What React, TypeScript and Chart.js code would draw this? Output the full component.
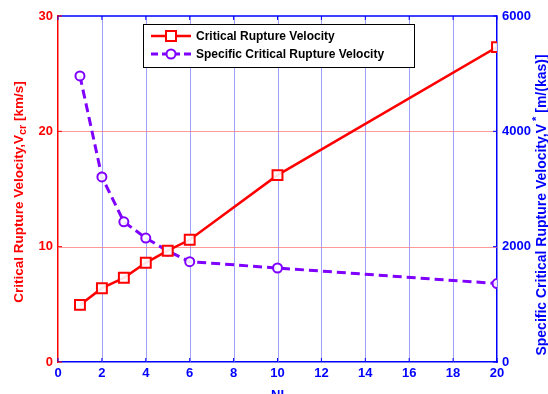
import React, { useEffect, useRef } from "react";
import { Chart, registerables } from "chart.js";

Chart.register(...registerables);

const nlValues = [1, 2, 3, 4, 5, 6, 10, 20];
const criticalVelocity = [4.95, 6.4, 7.3, 8.6, 9.65, 10.6, 16.2, 27.3];
const specificVelocity = [4960, 3210, 2430, 2150, 1925, 1740, 1630, 1360];
const xTicks = [0, 2, 4, 6, 8, 10, 12, 14, 16, 18, 20];
const leftTicks = [0, 10, 20, 30];
const rightTicks = [0, 2000, 4000, 6000];

const RED = "#ff0000";
const BLUE = "#0000ff";
const PURPLE = "#7f00ff";
const FONT = "Liberation Sans, Arial, sans-serif";

const decorPlugin = {
  id: "decor",
  beforeDatasetsDraw(chart: any) {
    const ctx = chart.ctx;
    const a = chart.chartArea;
    const xs = chart.scales.x;
    const yl = chart.scales.y;
    ctx.save();
    ctx.lineWidth = 1;
    ctx.strokeStyle = "rgba(120,120,255,0.7)";
    xTicks.forEach((t) => {
      if (t === 0 || t === 20) return;
      const px = Math.round(xs.getPixelForValue(t)) + 0.5;
      ctx.beginPath();
      ctx.moveTo(px, a.top);
      ctx.lineTo(px, a.bottom);
      ctx.stroke();
    });
    ctx.strokeStyle = "rgba(255,120,120,0.75)";
    leftTicks.forEach((t) => {
      if (t === 0 || t === 30) return;
      const py = Math.round(yl.getPixelForValue(t)) + 0.5;
      ctx.beginPath();
      ctx.moveTo(a.left, py);
      ctx.lineTo(a.right, py);
      ctx.stroke();
    });
    ctx.restore();
  },
  afterDraw(chart: any) {
    const ctx = chart.ctx;
    const a = chart.chartArea;
    const xs = chart.scales.x;
    const yl = chart.scales.y;
    const yr = chart.scales.y1;
    ctx.save();
    ctx.strokeStyle = BLUE;
    ctx.lineWidth = 1.5;
    ctx.beginPath();
    ctx.moveTo(a.left, a.top);
    ctx.lineTo(a.right, a.top);
    ctx.stroke();
    ctx.lineWidth = 1;
    xTicks.forEach((t) => {
      const px = xs.getPixelForValue(t);
      ctx.strokeStyle = BLUE;
      ctx.beginPath();
      ctx.moveTo(px, a.bottom);
      ctx.lineTo(px, a.bottom - 4);
      ctx.moveTo(px, a.top);
      ctx.lineTo(px, a.top + 4);
      ctx.stroke();
    });
    leftTicks.forEach((t) => {
      const py = yl.getPixelForValue(t);
      ctx.strokeStyle = RED;
      ctx.beginPath();
      ctx.moveTo(a.left, py);
      ctx.lineTo(a.left + 4, py);
      ctx.stroke();
    });
    rightTicks.forEach((t) => {
      const py = yr.getPixelForValue(t);
      ctx.strokeStyle = BLUE;
      ctx.beginPath();
      ctx.moveTo(a.right, py);
      ctx.lineTo(a.right - 4, py);
      ctx.stroke();
    });

    const drawRotated = (
      cx: number,
      cy: number,
      parts: { t: string; dy: number; size: number }[],
      color: string
    ) => {
      ctx.save();
      ctx.translate(cx, cy);
      ctx.rotate(-Math.PI / 2);
      ctx.fillStyle = color;
      ctx.textBaseline = "middle";
      let total = 0;
      parts.forEach((p) => {
        ctx.font = `bold ${p.size}px ${FONT}`;
        total += ctx.measureText(p.t).width;
      });
      let x = -total / 2;
      parts.forEach((p) => {
        ctx.font = `bold ${p.size}px ${FONT}`;
        ctx.textAlign = "left";
        ctx.fillText(p.t, x, p.dy);
        x += ctx.measureText(p.t).width;
      });
      ctx.restore();
    };
    drawRotated(
      19,
      192,
      [
        { t: "Critical Rupture Velocity,V", dy: 0, size: 13.5 },
        { t: "cr", dy: 4, size: 11 },
        { t: " [km/s]", dy: 0, size: 13.5 },
      ],
      RED
    );
    drawRotated(
      542,
      205,
      [
        { t: "Specific Critical Rupture Velocity,V", dy: 0, size: 14 },
        { t: " *", dy: -5, size: 11 },
        { t: " [m/(kas)]", dy: 0, size: 14 },
      ],
      BLUE
    );
    ctx.fillStyle = BLUE;
    ctx.font = `bold 13px ${FONT}`;
    ctx.textAlign = "center";
    ctx.textBaseline = "middle";
    ctx.fillText("NI", (a.left + a.right) / 2, 395);

    const lx = 143, ly = 24, lw = 271, lh = 43;
    ctx.fillStyle = "#ffffff";
    ctx.fillRect(lx, ly, lw, lh);
    ctx.strokeStyle = "#000000";
    ctx.lineWidth = 1;
    ctx.strokeRect(lx + 0.5, ly + 0.5, lw, lh);
    const y1 = 36;
    ctx.strokeStyle = RED;
    ctx.lineWidth = 2.5;
    ctx.setLineDash([]);
    ctx.beginPath();
    ctx.moveTo(151, y1);
    ctx.lineTo(191, y1);
    ctx.stroke();
    ctx.fillStyle = "#ffffff";
    ctx.fillRect(166, y1 - 5, 10, 10);
    ctx.lineWidth = 2;
    ctx.strokeRect(166, y1 - 5, 10, 10);
    ctx.fillStyle = "#000000";
    ctx.font = `bold 12px ${FONT}`;
    ctx.textAlign = "left";
    ctx.fillText("Critical Rupture Velocity", 196, y1 + 1);
    const y2 = 54;
    ctx.strokeStyle = PURPLE;
    ctx.lineWidth = 3;
    ctx.setLineDash([7, 4]);
    ctx.beginPath();
    ctx.moveTo(151, y2);
    ctx.lineTo(191, y2);
    ctx.stroke();
    ctx.setLineDash([]);
    ctx.lineWidth = 2;
    ctx.fillStyle = "#ffffff";
    ctx.beginPath();
    ctx.arc(171, y2, 4.5, 0, Math.PI * 2);
    ctx.fill();
    ctx.stroke();
    ctx.fillStyle = "#000000";
    ctx.fillText("Specific Critical Rupture Velocity", 196, y2 + 1);
    ctx.restore();
  },
};

export default function App() {
  const ref = useRef<HTMLCanvasElement>(null);
  useEffect(() => {
    document.body.style.margin = "0";
    const chart = new Chart(ref.current!, {
      type: "line",
      data: {
        datasets: [
          {
            label: "Critical Rupture Velocity",
            data: nlValues.map((x, i) => ({ x, y: criticalVelocity[i] })),
            borderColor: RED,
            backgroundColor: "#ffffff",
            borderWidth: 2.5,
            pointStyle: "rect",
            pointRadius: 7,
            pointBorderWidth: 2,
            pointBorderColor: RED,
            pointBackgroundColor: "rgba(255,255,255,0.9)",
            yAxisID: "y",
            tension: 0,
          },
          {
            label: "Specific Critical Rupture Velocity",
            data: nlValues.map((x, i) => ({ x, y: specificVelocity[i] })),
            borderColor: PURPLE,
            backgroundColor: "#ffffff",
            borderWidth: 3,
            borderDash: [9, 5],
            pointStyle: "circle",
            pointRadius: 4.5,
            pointBorderWidth: 2,
            pointBorderColor: PURPLE,
            pointBackgroundColor: "rgba(255,255,255,0.9)",
            yAxisID: "y1",
            tension: 0,
          },
        ],
      },
      options: {
        animation: false,
        responsive: false,
        maintainAspectRatio: false,
        layout: { padding: { top: 16, left: 0, right: 0, bottom: 0 } },
        plugins: { legend: { display: false }, tooltip: { enabled: false } },
        scales: {
          x: {
            type: "linear",
            min: 0,
            max: 20,
            afterFit: (s: any) => {
              s.height = 32;
            },
            afterBuildTicks: (s: any) => {
              s.ticks = xTicks.map((v) => ({ value: v }));
            },
            ticks: {
              color: BLUE,
              font: { family: FONT, weight: "bold", size: 13 },
              padding: 4,
              maxRotation: 0,
              callback: (v: any) => String(v),
            },
            grid: { display: false, drawTicks: false },
            border: { color: BLUE, width: 1.5 },
          },
          y: {
            type: "linear",
            position: "left",
            min: 0,
            max: 30,
            afterFit: (s: any) => {
              s.width = 58;
            },
            afterBuildTicks: (s: any) => {
              s.ticks = leftTicks.map((v) => ({ value: v }));
            },
            ticks: {
              color: RED,
              font: { family: FONT, weight: "bold", size: 13 },
              padding: 5,
              callback: (v: any) => String(v),
            },
            grid: { display: false, drawTicks: false },
            border: { color: RED, width: 1.5 },
          },
          y1: {
            type: "linear",
            position: "right",
            min: 0,
            max: 6000,
            afterFit: (s: any) => {
              s.width = 51;
            },
            afterBuildTicks: (s: any) => {
              s.ticks = rightTicks.map((v) => ({ value: v }));
            },
            ticks: {
              color: BLUE,
              font: { family: FONT, weight: "bold", size: 13 },
              padding: 5,
              callback: (v: any) => String(v),
            },
            grid: { display: false, drawTicks: false },
            border: { color: BLUE, width: 1.5 },
          },
        },
      } as any,
      plugins: [decorPlugin],
    });
    return () => chart.destroy();
  }, []);
  return (
    <div style={{ position: "absolute", left: 0, top: 0, width: 548, height: 394, background: "#fff" }}>
      <canvas ref={ref} width={548} height={394} style={{ width: 548, height: 394 }} />
    </div>
  );
}
